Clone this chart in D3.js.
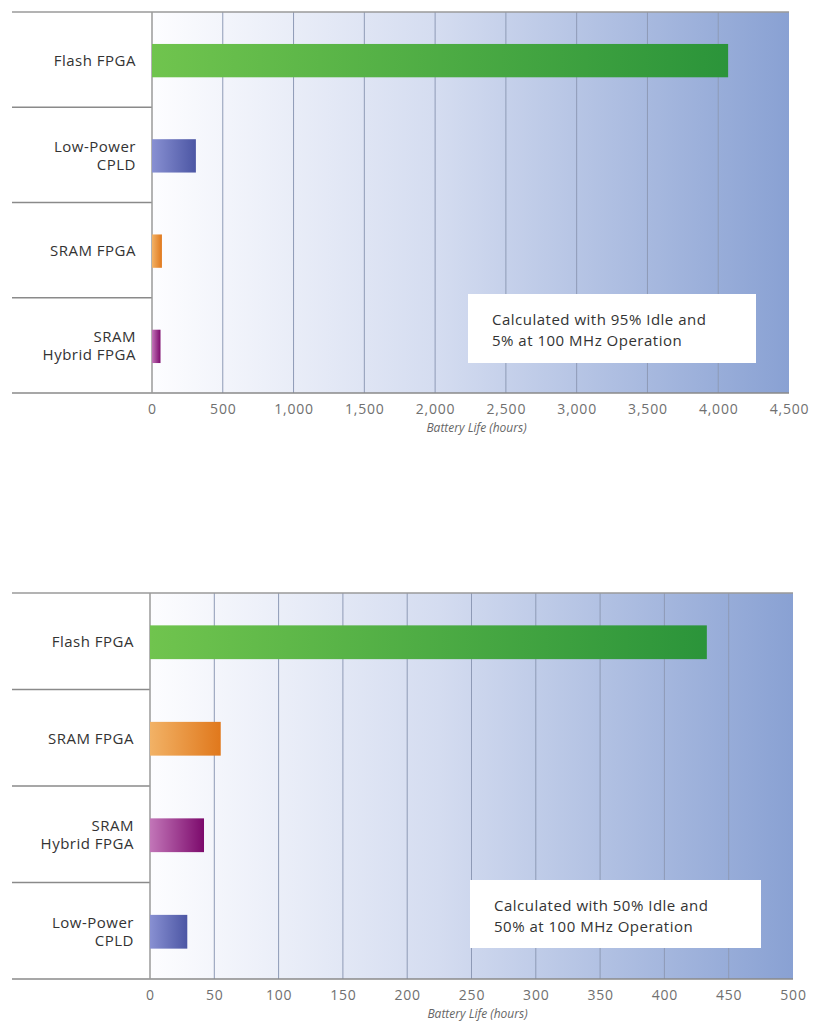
<!DOCTYPE html>
<html>
<head>
<meta charset="utf-8">
<script src="https://cdn.jsdelivr.net/npm/d3@7"></script>
<style>
  body { margin: 0; background: #fff; }
  svg { display: block; }
  text { font-family: "Open Sans", sans-serif; }
</style>
</head>
<body>
<div id="chart"></div>
<script>
var topCategories = ["Flash FPGA", "Low-Power\nCPLD", "SRAM FPGA", "SRAM\nHybrid FPGA"];
var topValues = [4070, 310, 70, 60];
var topTicks = [0, 500, 1000, 1500, 2000, 2500, 3000, 3500, 4000, 4500];
var topNote = ["Calculated with 95% Idle and", "5% at 100 MHz Operation"];

var bottomCategories = ["Flash FPGA", "SRAM FPGA", "SRAM\nHybrid FPGA", "Low-Power\nCPLD"];
var bottomValues = [433, 55, 42, 29];
var bottomTicks = [0, 50, 100, 150, 200, 250, 300, 350, 400, 450, 500];
var bottomNote = ["Calculated with 50% Idle and", "50% at 100 MHz Operation"];

var axisTitle = "Battery Life (hours)";

// light -> dark per device type
var barColors = {
  "Flash FPGA": ["#70c44e", "#2b943a"],
  "Low-Power\nCPLD": ["#8890d2", "#4c56a4"],
  "SRAM FPGA": ["#f2b266", "#e0781c"],
  "SRAM\nHybrid FPGA": ["#c276b8", "#7c0a6c"]
};

var width = 813, height = 1034;

var svg = d3.select("#chart").append("svg")
  .attr("width", width)
  .attr("height", height);

var defs = svg.append("defs");

var bg = defs.append("linearGradient").attr("id", "bg")
  .attr("x1", "0%").attr("x2", "100%").attr("y1", "0%").attr("y2", "0%");
bg.append("stop").attr("offset", "0%").attr("stop-color", "#fdfdff");
bg.append("stop").attr("offset", "45%").attr("stop-color", "#d4dcf0");
bg.append("stop").attr("offset", "100%").attr("stop-color", "#89a1d3");

Object.keys(barColors).forEach(function(k, i) {
  var g = defs.append("linearGradient").attr("id", "bar" + i)
    .attr("x1", "0%").attr("x2", "100%").attr("y1", "0%").attr("y2", "0%");
  g.append("stop").attr("offset", "0%").attr("stop-color", barColors[k][0]);
  g.append("stop").attr("offset", "100%").attr("stop-color", barColors[k][1]);
});

function barFill(cat) {
  return "url(#bar" + Object.keys(barColors).indexOf(cat) + ")";
}

function drawChart(opts) {
  var left = 12, x0 = opts.x0, x1 = opts.x1, y0 = opts.y0, y1 = opts.y1;

  var x = d3.scaleLinear()
    .domain([0, opts.ticks[opts.ticks.length - 1]])
    .range([x0, x1]);

  var y = d3.scaleBand()
    .domain(opts.categories)
    .range([y0, y1]);

  var g = svg.append("g");

  g.append("rect")
    .attr("x", x0).attr("y", y0)
    .attr("width", x1 - x0).attr("height", y1 - y0)
    .attr("fill", "url(#bg)");

  // gridlines
  g.append("g")
    .selectAll("line")
    .data(opts.ticks.slice(1, -1))
    .enter().append("line")
    .attr("x1", function(d) { return x(d); })
    .attr("x2", function(d) { return x(d); })
    .attr("y1", y0).attr("y2", y1)
    .attr("stroke", "#8e9ab6")
    .attr("stroke-width", 1);

  // category separators in the label column
  g.append("g")
    .selectAll("line")
    .data(opts.categories.slice(1))
    .enter().append("line")
    .attr("x1", left).attr("x2", x0)
    .attr("y1", function(d) { return y(d); })
    .attr("y2", function(d) { return y(d); })
    .attr("stroke", "#8a8a8a")
    .attr("stroke-width", 1.5);

  g.append("line")
    .attr("x1", left).attr("x2", x1).attr("y1", y0).attr("y2", y0)
    .attr("stroke", "#9a9a9a").attr("stroke-width", 1.5);
  g.append("line")
    .attr("x1", left).attr("x2", x1).attr("y1", y1).attr("y2", y1)
    .attr("stroke", "#8a8a8a").attr("stroke-width", 1.5);
  g.append("line")
    .attr("x1", x0).attr("x2", x0).attr("y1", y0).attr("y2", y1)
    .attr("stroke", "#9a9a9a").attr("stroke-width", 1.5);

  var bh = y.bandwidth() * 0.35;

  g.append("g")
    .selectAll("rect")
    .data(opts.categories)
    .enter().append("rect")
    .attr("x", x0)
    .attr("y", function(d) { return y(d) + y.bandwidth() / 2 - bh / 2 + 1; })
    .attr("width", function(d, i) { return x(opts.values[i]) - x0; })
    .attr("height", bh)
    .attr("fill", function(d) { return barFill(d); });

  // category labels
  var labels = g.append("g")
    .selectAll("text")
    .data(opts.categories)
    .enter().append("text")
    .attr("text-anchor", "end")
    .attr("font-size", "15px")
    .attr("letter-spacing", "0.5px")
    .attr("fill", "#333")
    .attr("y", function(d) { return y(d) + y.bandwidth() / 2; });

  labels.each(function(d) {
    var lines = d.split("\n");
    var t = d3.select(this);
    lines.forEach(function(l, i) {
      t.append("tspan")
        .attr("x", x0 - 16)
        .attr("dy", i == 0 ? ((lines.length - 1) * -9 + 6) + "px" : "18px")
        .text(l);
    });
  });

  // x axis ticks
  var axis = g.append("g")
    .attr("transform", "translate(0," + y1 + ")")
    .call(d3.axisBottom(x).tickValues(opts.ticks).tickSize(0).tickPadding(11).tickFormat(d3.format(",")));
  axis.select(".domain").remove();
  axis.selectAll("text")
    .attr("font-family", "Open Sans, sans-serif")
    .attr("font-size", "14px")
    .attr("letter-spacing", "0.8px")
    .attr("fill", "#707070");

  g.append("text")
    .attr("x", (x0 + x1) / 2 + 6)
    .attr("y", y1 + 39)
    .attr("text-anchor", "middle")
    .attr("font-size", "12px")
    .attr("font-style", "italic")
    .attr("fill", "#666")
    .text(axisTitle);

  // note box
  var bx = opts.box[0], by = opts.box[1];
  g.append("rect")
    .attr("x", bx).attr("y", by)
    .attr("width", opts.box[2]).attr("height", opts.box[3])
    .attr("fill", "#fff");
  g.append("g")
    .selectAll("text")
    .data(opts.note)
    .enter().append("text")
    .attr("x", bx + 24)
    .attr("y", function(d, i) { return by + 31 + i * 21; })
    .attr("font-size", "15px")
    .attr("letter-spacing", "0.5px")
    .attr("fill", "#333")
    .text(function(d) { return d; });
}

drawChart({
  categories: topCategories, values: topValues, ticks: topTicks, note: topNote,
  x0: 152, x1: 789, y0: 12, y1: 393,
  box: [468, 294, 288, 69]
});

drawChart({
  categories: bottomCategories, values: bottomValues, ticks: bottomTicks, note: bottomNote,
  x0: 150, x1: 793, y0: 593, y1: 979,
  box: [470, 880, 291, 68]
});
</script>
</body>
</html>
